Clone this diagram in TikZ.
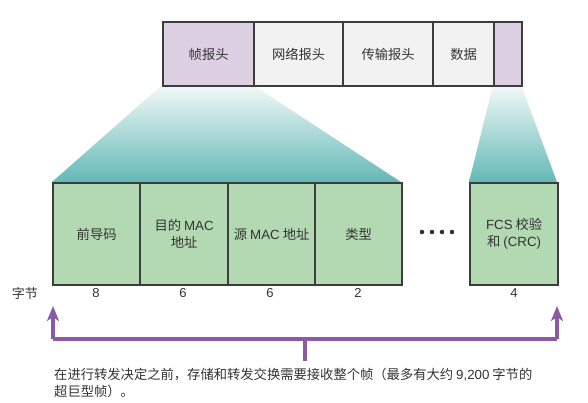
\documentclass[tikz,border=0pt]{standalone}
\usepackage{fontspec}
\setmainfont{Noto Sans CJK SC}
\newfontfamily\lat{Liberation Sans}
\usetikzlibrary{arrows.meta}

\definecolor{hdrpurple}{HTML}{DDD0E3}
\definecolor{cellgray}{HTML}{F2F2F2}
\definecolor{fieldgreen}{HTML}{B3D9B3}
\definecolor{edgegray}{HTML}{3D3D3D}
\definecolor{tealdark}{HTML}{63B9B6}
\definecolor{teallight}{HTML}{F2F9F8}
\definecolor{arrowpurple}{HTML}{8A5AA5}
\definecolor{textgray}{HTML}{333333}

\tikzset{
  cell/.style={draw=edgegray, line width=2.3pt, inner sep=0pt, anchor=north west,
    text=textgray, align=center, font=\fontsize{13.3}{17}\selectfont},
  field/.style={cell, fill=fieldgreen, minimum height=102pt},
  bytes/.style={text=textgray, font=\fontsize{13}{15}\selectfont\lat, anchor=center},
  bracket/.style={draw=arrowpurple, line width=3.3pt, line join=miter},
  tip/.style={-{Stealth[length=15pt,width=12pt,inset=4pt]}},
  dot/.style={circle, fill=black!80, inner sep=0pt, minimum size=4.6pt},
}

\begin{document}
\begin{tikzpicture}[x=1pt, y=-1pt]
\useasboundingbox (0,0) rectangle (588,403);

% expansion fans from the frame header and trailer down to the field rows
\shade[top color=teallight, bottom color=tealdark]
  (162,85) -- (253,85) -- (401,182) -- (52,182) -- cycle;
\shade[top color=teallight, bottom color=tealdark]
  (493,85) -- (521,85) -- (557,182) -- (469,182) -- cycle;

% encapsulated frame
\node[cell, fill=hdrpurple, minimum width=91pt, minimum height=64pt] (fh) at (162,21) {帧报头};
\node[cell, fill=cellgray, minimum width=89pt, minimum height=64pt] (nh) at (253,21) {网络报头};
\node[cell, fill=cellgray, minimum width=90pt, minimum height=64pt] (th) at (342,21) {传输报头};
\node[cell, fill=cellgray, minimum width=61pt, minimum height=64pt] (dt) at (432,21) {数据};
\node[cell, fill=hdrpurple, minimum width=28pt, minimum height=64pt] (tr) at (493,21) {};

% Ethernet frame fields
\node[field, minimum width=87pt] (pre) at (52,182) {前导码};
\node[field, minimum width=88pt] (dst) at (139,182) {目的 {\lat MAC}\\地址};
\node[field, minimum width=87pt] (src) at (227,182) {源 {\lat MAC} 地址};
\node[field, minimum width=87pt] (typ) at (314,182) {类型};
\node[field, minimum width=88pt] (fcs) at (469,182) {{\lat FCS} 校验\\和 {\lat (CRC)}};

% omitted fields
\node[dot] (d1) at (422,232) {};
\node[dot] (d2) at (432,232) {};
\node[dot] (d3) at (442,232) {};
\node[dot] (d4) at (452,232) {};

% field sizes
\node[text=textgray, font=\fontsize{13}{15}\selectfont] (unit) at (25,294) {字节};
\node[bytes] (b1) at (96,293) {8};
\node[bytes] (b2) at (183,293) {6};
\node[bytes] (b3) at (270,293) {6};
\node[bytes] (b4) at (358,293) {2};
\node[bytes] (b5) at (514,293) {4};

% bracket spanning the whole frame
\coordinate (ltip) at (53,306);
\coordinate (lcorner) at (53,339);
\coordinate (rcorner) at (557,339);
\coordinate (rtip) at (557,306);
\coordinate (stemtop) at (305,339);
\coordinate (stembot) at (305,361);
\draw[bracket, tip] (lcorner) -- (ltip);
\draw[bracket, tip] (rcorner) -- (rtip);
\draw[bracket] (lcorner) -- (rcorner);
\draw[bracket] (stemtop) -- (stembot);

\node[anchor=north west, align=left, inner sep=0pt, text=textgray,
  font=\fontsize{13.3}{16.5}\selectfont] (note) at (54,368)
  {在进行转发决定之前，存储和转发交换需要接收整个帧（最多有大约 {\lat 9,200} 字节的\\超巨型帧）。};
\end{tikzpicture}
\end{document}
